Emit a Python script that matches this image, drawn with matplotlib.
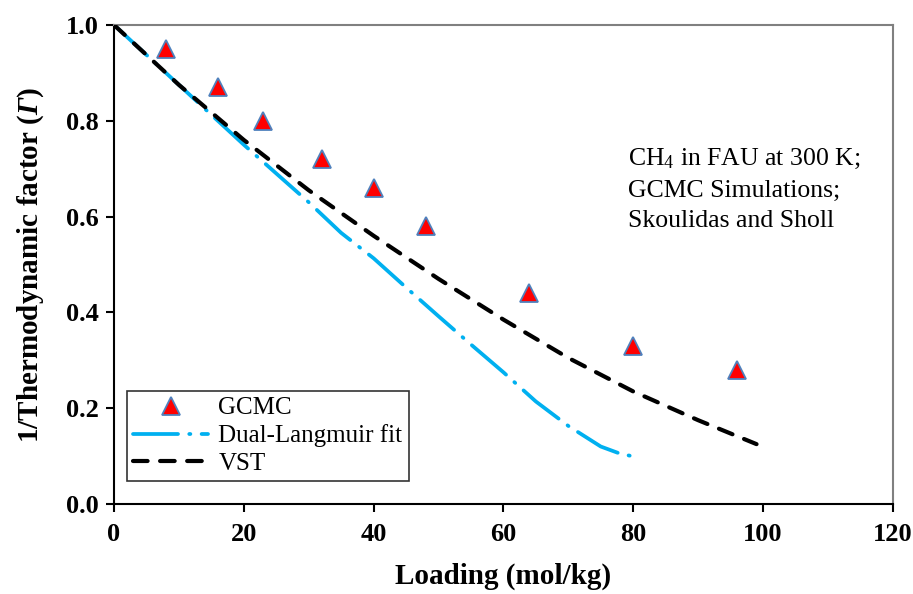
import matplotlib
matplotlib.use("Agg")
import matplotlib.pyplot as plt

plt.rcParams['font.family'] = ['Liberation Serif', 'DejaVu Serif']
plt.rcParams['mathtext.fontset'] = 'custom'
plt.rcParams['mathtext.rm'] = 'Liberation Serif'
plt.rcParams['mathtext.it'] = 'Liberation Serif:italic'
plt.rcParams['mathtext.bf'] = 'Liberation Serif:bold'
# sf slot used for the bold italic Gamma in the y label
plt.rcParams['mathtext.sf'] = 'Liberation Serif:italic:bold'

# GCMC points (Skoulidas and Sholl)
gcmc_q = [8, 16, 23, 32, 40, 48, 64, 80, 96]
gcmc_inv_gamma = [0.95, 0.87, 0.80, 0.72, 0.66, 0.58, 0.44, 0.33, 0.28]

# Dual-Langmuir fit
dl_q = [0, 10, 20, 25, 30, 35, 40, 45, 50, 55, 60, 65, 70, 75, 78, 80.5]
dl_inv_gamma = [1.0, 0.875, 0.75, 0.69, 0.63, 0.566, 0.513, 0.452, 0.392,
                0.333, 0.275, 0.214, 0.163, 0.12, 0.105, 0.098]

# VST curve
vst_q = [0, 10, 20, 30, 40, 50, 60, 70, 80, 90, 99]
vst_inv_gamma = [1.0, 0.875, 0.76, 0.655, 0.56, 0.47, 0.385, 0.305, 0.235, 0.175, 0.125]

fig = plt.figure(figsize=(9.13, 5.94), dpi=100)
ax = fig.add_axes([0.1249, 0.1515, 0.853, 0.8064])

ax.plot(gcmc_q, gcmc_inv_gamma, linestyle='none', marker='^', markersize=13,
        markerfacecolor='#ff0000', markeredgecolor='#4f81bd', markeredgewidth=1.3,
        label='GCMC', zorder=4)
ax.plot(dl_q, dl_inv_gamma, color='#00b0f0', linewidth=2.7,
        linestyle=(0, (12, 3, 0.3, 3)), dash_capstyle='round',
        label='Dual-Langmuir fit', zorder=2)
ax.plot(vst_q, vst_inv_gamma, color='black', linewidth=3.0,
        linestyle=(0, (3.5, 3)), dash_capstyle='round',
        label='VST', zorder=3)

ax.set_xlim(0, 120)
ax.set_ylim(0, 1.0)
ax.set_xticks([0, 20, 40, 60, 80, 100, 120])
ax.set_yticks([0.0, 0.2, 0.4, 0.6, 0.8, 1.0])
ax.set_yticklabels(['0.0', '0.2', '0.4', '0.6', '0.8', '1.0'])

for s in ['left', 'bottom']:
    ax.spines[s].set_color('black')
    ax.spines[s].set_linewidth(1.5)
for s in ['top', 'right']:
    ax.spines[s].set_color('#808080')
    ax.spines[s].set_linewidth(1.5)

ax.tick_params(direction='out', length=6, width=1.5, labelsize=19, pad=5)
ax.tick_params(axis='x', pad=8)
ax.tick_params(top=False, right=False)
for lab in ax.get_xticklabels() + ax.get_yticklabels():
    lab.set_fontweight('bold')

ax.set_xlabel('Loading (mol/kg)', fontsize=21, fontweight='bold', labelpad=12)
ax.set_ylabel(r'1/Thermodynamic factor ($\mathsf{Γ}$)', fontsize=21,
              fontweight='bold', labelpad=14)

ax.text(79.2, 0.745, 'CH$_4$ in FAU at 300 K;\nGCMC Simulations;\nSkoulidas and Sholl',
        fontsize=18.5, va='top', ha='left', linespacing=1.5)

leg = ax.legend(loc='lower left', bbox_to_anchor=(0.0167, 0.048), borderaxespad=0,
                fontsize=18, frameon=True, fancybox=False, edgecolor='black',
                handlelength=3.0, handletextpad=0.4, labelspacing=0.2,
                borderpad=0.25)
leg.get_frame().set_linewidth(1.2)

fig.savefig('out.png', dpi=100)
